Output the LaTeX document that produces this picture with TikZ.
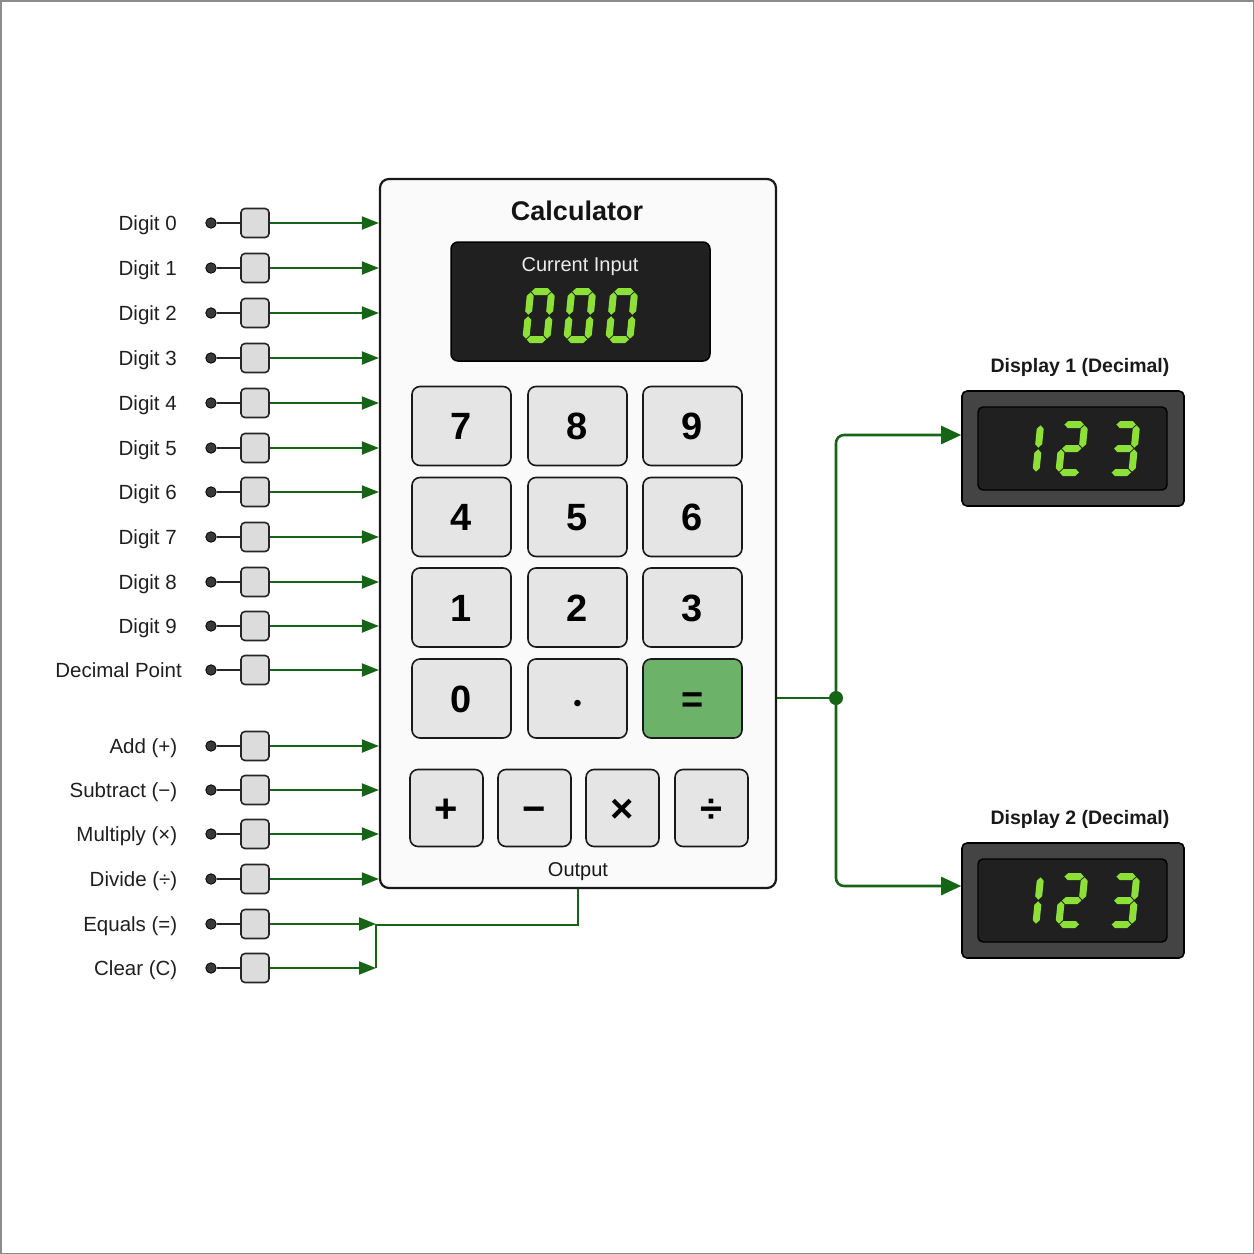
\documentclass[tikz,border=0pt]{standalone}
\usepackage{fontspec}
\setmainfont{Liberation Sans}
\usetikzlibrary{arrows.meta}
\definecolor{wire}{RGB}{22,100,22}
\definecolor{segc}{RGB}{140,224,56}
\definecolor{keyfill}{RGB}{229,229,229}
\definecolor{eqfill}{RGB}{108,178,104}
\definecolor{pinbox}{RGB}{220,220,220}
\definecolor{bezel}{RGB}{68,68,68}
\definecolor{lcd}{RGB}{32,32,32}
\def\sA{(4.3,51.5)--(7.8,55)--(20.2,55)--(23.7,51.5)--(20.2,48)--(7.8,48)--cycle}
\def\sG{(4.3,27.5)--(7.8,31)--(20.2,31)--(23.7,27.5)--(20.2,24)--(7.8,24)--cycle}
\def\sD{(4.3,3.5)--(7.8,7)--(20.2,7)--(23.7,3.5)--(20.2,0)--(7.8,0)--cycle}
\def\sF{(3.5,28.3)--(7,31.8)--(7,47.2)--(3.5,50.7)--(0,47.2)--(0,31.8)--cycle}
\def\sB{(24.5,28.3)--(28,31.8)--(28,47.2)--(24.5,50.7)--(21,47.2)--(21,31.8)--cycle}
\def\sE{(3.5,4.3)--(7,7.8)--(7,23.2)--(3.5,26.7)--(0,23.2)--(0,7.8)--cycle}
\def\sC{(24.5,4.3)--(28,7.8)--(28,23.2)--(24.5,26.7)--(21,23.2)--(21,7.8)--cycle}
\tikzset{
  dig0/.pic={\fill[segc] \sA \sB \sC \sD \sE \sF;},
  dig1/.pic={\fill[segc] \sB \sC;},
  dig2/.pic={\fill[segc] \sA \sB \sG \sE \sD;},
  dig3/.pic={\fill[segc] \sA \sB \sG \sC \sD;},
  segpos/.style={xslant=0.1, yscale=-1},
  lbl/.style={anchor=east, inner sep=0, text=black!88, font=\fontsize{20.5}{24}\selectfont, text height=14.7, text depth=0},
  pindot/.style={circle, fill=black!78, draw=black, line width=0.8, inner sep=0, minimum size=10.5},
  sw/.style={draw=black!85, line width=1.6, rounded corners=4, fill=pinbox, minimum width=28, minimum height=29, inner sep=0},
  pinline/.style={draw=black!85, line width=1.5},
  gw/.style={draw=wire, line width=2, -{Triangle[length=17pt,width=13pt]}},
  gw2/.style={draw=wire, line width=2.6, rounded corners=8, -{Triangle[length=20pt,width=18pt]}},
  calcbody/.style={draw=black!90, line width=2.2, rounded corners=9, fill=black!2, minimum width=396, minimum height=709, inner sep=0},
  lcdbox/.style={draw=black, line width=1.5, rounded corners=7, fill=lcd, minimum width=259, minimum height=119, inner sep=0},
  keybox/.style={draw=black!90, line width=1.6, rounded corners=8, fill=keyfill, minimum width=99, minimum height=79, inner sep=0, font=\bfseries\fontsize{38}{40}\selectfont, text height=27.2, text depth=0},
  opkey/.style={keybox, minimum width=73, minimum height=77, font=\bfseries\fontsize{40}{42}\selectfont, text height=28.6},
  bez/.style={draw=black, line width=1.6, rounded corners=5, fill=bezel, minimum width=222, minimum height=115, inner sep=0},
  innerlcd/.style={draw=black, line width=1.4, rounded corners=5, fill=lcd, minimum width=189, minimum height=83, inner sep=0},
  dtitle/.style={font=\bfseries\fontsize{19.5}{22}\selectfont, text=black!90, text height=14, text depth=0, inner sep=0},
  plain/.style={text=black!90, font=\fontsize{20}{24}\selectfont, text height=14.3, text depth=0, inner sep=0},
}
\begin{document}
\begin{tikzpicture}[x=1pt,y=-1pt]
\useasboundingbox (0,0) rectangle (1254,1254);
\draw[black!45, line width=1.5] (0.75,0.75) rectangle (1253.25,1253.25);

% calculator body
\node[calcbody] (calc) at (578,533.5) {};
\node[font=\bfseries\fontsize{27}{30}\selectfont, text=black!92, text height=19.3, text depth=0, inner sep=0] (title) at (577,211) {Calculator};
\node[lcdbox] (inp) at (580.5,301.5) {};
\node[plain, text=black!8] (inplbl) at (580,264) {Current Input};
\pic[segpos] at (522,343) {dig0};
\pic[segpos] at (563,343) {dig0};
\pic[segpos] at (605,343) {dig0};

% keypad
\node[keybox] (k7) at (461.5,426) {7};
\node[keybox] (k8) at (577.5,426) {8};
\node[keybox] (k9) at (692.5,426) {9};
\node[keybox] (k4) at (461.5,517) {4};
\node[keybox] (k5) at (577.5,517) {5};
\node[keybox] (k6) at (692.5,517) {6};
\node[keybox] (k1) at (461.5,607.5) {1};
\node[keybox] (k2) at (577.5,607.5) {2};
\node[keybox] (k3) at (692.5,607.5) {3};
\node[keybox] (k0) at (461.5,698.5) {0};
\node[keybox, font=\fontsize{24}{26}\selectfont, text height=25] (kdot) at (577.5,698.5) {•};
\node[keybox, fill=eqfill] (keq) at (692.5,698.5) {=};
\node[opkey] (kadd) at (446.5,808) {+};
\node[opkey] (ksub) at (534.5,808) {−};
\node[opkey] (kmul) at (622.5,808) {×};
\node[opkey] (kdiv) at (711.5,808) {÷};
\node[plain] (outlbl) at (578,869) {Output};

% inputs
\foreach \n/\t/\y/\lx in {d0/Digit 0/223/177, d1/Digit 1/268/177, d2/Digit 2/313/177, d3/Digit 3/358/177, d4/Digit 4/403/177, d5/Digit 5/448/177, d6/Digit 6/492/177, d7/Digit 7/537/177, d8/Digit 8/582/177, d9/Digit 9/626/177, dp/Decimal Point/670/182, add/Add (+)/746/177.5, sub/Subtract (−)/790/177.5, mul/Multiply (×)/834/177.5, div/Divide (÷)/879/177.5, eq/Equals (=)/924/177.5, clr/Clear (C)/968/177.5}{
  \node[lbl] (l\n) at (\lx,\y) {\t};
  \node[pindot] (p\n) at (211,\y) {};
  \node[sw] (s\n) at (255,\y) {};
  \draw[pinline] (p\n) -- (s\n);
}
\foreach \n in {d0,d1,d2,d3,d4,d5,d6,d7,d8,d9,dp,add,sub,mul,div}{
  \draw[gw] (s\n.east) -- (s\n.east -| calc.west);
}
\coordinate (jeq) at (376,925);
\coordinate (jclr) at (376,968);
\draw[gw] (seq.east) -- (seq.east -| jeq);
\draw[gw] (sclr.east) -- (jclr);
\draw[draw=wire, line width=2] (calc.south) -- (calc.south |- jeq) -- (jeq) -- (jclr);

% displays
\node[dtitle] (t1) at (1080,365) {Display 1 (Decimal)};
\node[bez] (disp1) at (1073,448.5) {};
\node[innerlcd] (lcd1) at (1072.5,448.5) {};
\pic[segpos] at (1011,476) {dig1};
\pic[segpos] at (1055,476) {dig2};
\pic[segpos] at (1107,476) {dig3};

\node[dtitle] (t2) at (1080,817) {Display 2 (Decimal)};
\node[bez] (disp2) at (1073,900.5) {};
\node[innerlcd] (lcd2) at (1072.5,900.5) {};
\pic[segpos] at (1011,928) {dig1};
\pic[segpos] at (1055,928) {dig2};
\pic[segpos] at (1107,928) {dig3};

% output wiring
\coordinate (jn) at (836,698);
\draw[draw=wire, line width=2.6] (calc.east |- jn) -- (jn);
\draw[gw2] (jn) |- ([yshift=13.5]disp1.west);
\draw[gw2] (jn) |- ([yshift=14.5]disp2.west);
\fill[wire] (jn) circle (7);
\end{tikzpicture}
\end{document}
